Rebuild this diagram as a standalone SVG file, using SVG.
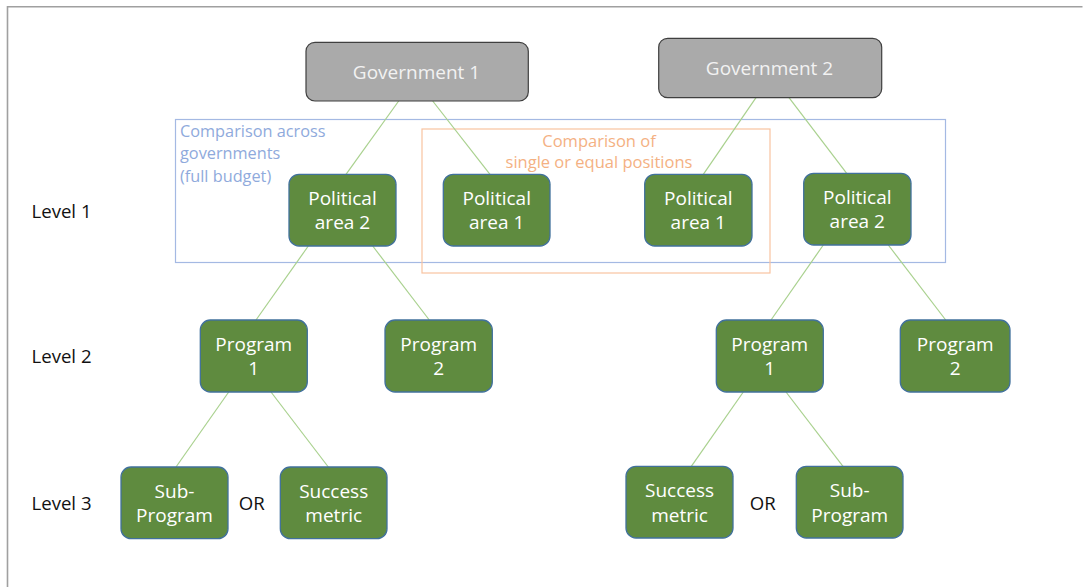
<svg xmlns="http://www.w3.org/2000/svg" width="1083" height="587" viewBox="0 0 1083 587">
<style>
.frame{fill:none;stroke:#a0a0a0;stroke-width:1.6}
.gov rect{fill:#aaaaaa;stroke:#3f3f3f;stroke-width:1.2}
.gov text{fill:#f2f2f2}
.node rect{fill:#5f8b3f;stroke:#41719c;stroke-width:1.3}
.node text{fill:#ffffff}
text{font-family:"Open Sans","Noto Sans","DejaVu Sans",sans-serif;font-size:19px;text-anchor:middle}
.lbl{fill:#111111;text-anchor:start;font-size:18.6px}
.or{fill:#111111;font-size:18.6px}
.conn line{stroke:#a9d18e;stroke-width:1.2}
.blue{fill:none;stroke:#a4b9e3;stroke-width:1.2}
.orange{fill:none;stroke:#f8c3a0;stroke-width:1.2}
.bt{fill:#8faadc;font-size:16.3px;text-anchor:start}
.ot{fill:#f4b183;font-size:16.5px}
</style>
<rect width="1083" height="587" fill="#ffffff"/>
<path class="frame" d="M7.5 587 V6.8 H1082.5"/>

<g id="comparison-boxes">
<rect class="blue" x="175.5" y="119.5" width="770" height="143"/>
<text class="bt" x="180" y="136.5">Comparison across</text>
<text class="bt" x="180" y="159">governments</text>
<text class="bt" x="180" y="181.5">(full budget)</text>
<rect class="orange" x="422" y="129" width="348" height="144"/>
<text class="ot" x="599" y="146.5">Comparison of</text>
<text class="ot" x="599" y="168">single or equal positions</text>
</g>

<g id="connectors" class="conn">
<line x1="398.7" y1="101" x2="346" y2="174.3"/>
<line x1="432.7" y1="101" x2="490" y2="174.3"/>
<line x1="756" y1="97.7" x2="703.3" y2="174.3"/>
<line x1="789" y1="97.7" x2="846.7" y2="173.3"/>
<line x1="308.3" y1="246" x2="256" y2="320"/>
<line x1="372.7" y1="246" x2="429.3" y2="320"/>
<line x1="823.3" y1="245" x2="771" y2="320"/>
<line x1="888.3" y1="245" x2="945.7" y2="320"/>
<line x1="228.7" y1="392" x2="176" y2="467"/>
<line x1="271" y1="392" x2="328.3" y2="467"/>
<line x1="743.3" y1="392" x2="691.3" y2="466.3"/>
<line x1="786" y1="392" x2="843" y2="466.3"/>
</g>

<g id="gov1" class="gov"><rect x="306" y="42.3" width="222.3" height="58.7" rx="9"/><text x="416.5" y="78.5">Government 1</text></g>
<g id="gov2" class="gov"><rect x="658.7" y="38.3" width="223" height="59.4" rx="9"/><text x="769.5" y="75">Government 2</text></g>

<g id="pa2-left" class="node"><rect x="289" y="174.3" width="107" height="71.7" rx="10"/><text x="342.5" y="204.5">Political</text><text x="342.5" y="229">area 2</text></g>
<g id="pa1-left" class="node"><rect x="443.3" y="174.3" width="106.7" height="71.7" rx="10"/><text x="496.7" y="204.5">Political</text><text x="496.7" y="229">area 1</text></g>
<g id="pa1-right" class="node"><rect x="644.7" y="174.3" width="107.3" height="71.7" rx="10"/><text x="698.3" y="204.5">Political</text><text x="698.3" y="229">area 1</text></g>
<g id="pa2-right" class="node"><rect x="803.7" y="173.3" width="107.3" height="71.7" rx="10"/><text x="857.3" y="203.5">Political</text><text x="857.3" y="228">area 2</text></g>

<g id="prog1-left" class="node"><rect x="200.3" y="320" width="107" height="72" rx="10"/><text x="253.8" y="350.5">Program</text><text x="253.8" y="375">1</text></g>
<g id="prog2-left" class="node"><rect x="385" y="320" width="107.3" height="72" rx="10"/><text x="438.7" y="350.5">Program</text><text x="438.7" y="375">2</text></g>
<g id="prog1-right" class="node"><rect x="716.3" y="320" width="107" height="72" rx="10"/><text x="769.8" y="350.5">Program</text><text x="769.8" y="375">1</text></g>
<g id="prog2-right" class="node"><rect x="900.3" y="320" width="109.7" height="72" rx="10"/><text x="955.2" y="350.5">Program</text><text x="955.2" y="375">2</text></g>

<g id="sub-left" class="node"><rect x="121" y="467" width="107" height="71.7" rx="10"/><text x="174.5" y="497.5">Sub-</text><text x="174.5" y="522">Program</text></g>
<g id="success-left" class="node"><rect x="280.3" y="467" width="106.7" height="71.7" rx="10"/><text x="333.7" y="497.5">Success</text><text x="333.7" y="522">metric</text></g>
<g id="success-right" class="node"><rect x="626" y="466.3" width="107" height="71.7" rx="10"/><text x="679.5" y="497">Success</text><text x="679.5" y="521.5">metric</text></g>
<g id="sub-right" class="node"><rect x="796.3" y="466.3" width="106.7" height="71.7" rx="10"/><text x="849.7" y="497">Sub-</text><text x="849.7" y="521.5">Program</text></g>

<g id="labels">
<text class="lbl" x="31.5" y="217.5">Level 1</text>
<text class="lbl" x="31.5" y="363">Level 2</text>
<text class="lbl" x="31.5" y="509.5">Level 3</text>
<text class="or" x="251.7" y="509.5">OR</text>
<text class="or" x="762.7" y="509.5">OR</text>
</g>
</svg>
